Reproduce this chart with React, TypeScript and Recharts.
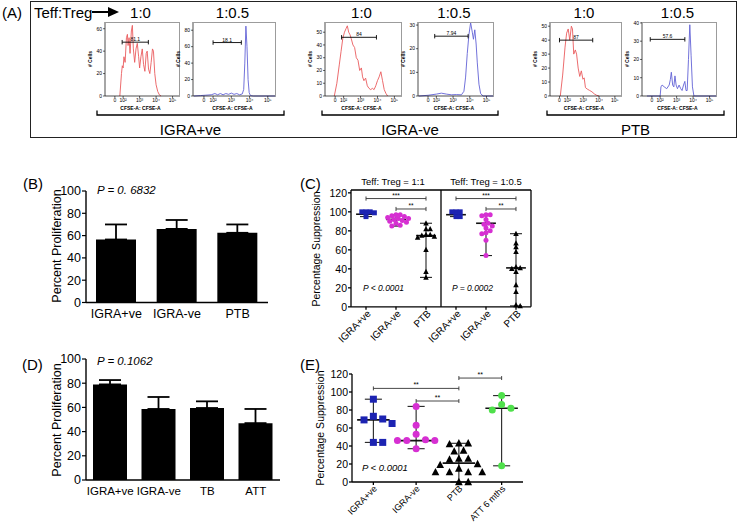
import React from "react";
import {
  BarChart,
  Bar,
  ErrorBar,
  LineChart,
  Line,
  ScatterChart,
  Scatter,
  XAxis,
  YAxis,
  ReferenceLine,
} from "recharts";

const FONT = "'Liberation Sans', Arial, Helvetica, sans-serif";
const RED = "#ea5b5d";
const BLUE = "#6262d6";

// ---------- Panel A: CFSE histograms (x in log decades, "0" drawn at 1.5)
const cfseTicks = [1.5, 2, 3, 4, 5];
const cfseTickLabels = ["0", "10²", "10³", "10⁴", "10⁵"];

const igraPosTeff = [
  [1.8, 0], [1.9, 20], [1.95, 27], [2.0, 25], [2.05, 35], [2.12, 30], [2.2, 52], [2.26, 55],
  [2.3, 45], [2.36, 52], [2.42, 38], [2.5, 58], [2.56, 63], [2.62, 42], [2.7, 30], [2.78, 42],
  [2.86, 47], [2.94, 35], [3.0, 25], [3.08, 35], [3.16, 42], [3.24, 28], [3.32, 22], [3.4, 38],
  [3.46, 40], [3.54, 24], [3.62, 20], [3.7, 30], [3.78, 42], [3.84, 40], [3.92, 20], [4.0, 10],
  [4.1, 4], [4.2, 1], [4.3, 0],
];
const igraPosTreg = [
  [0.95, 0], [1.3, 0.5], [1.6, 1], [1.9, 1.5], [2.1, 3], [2.25, 1.5], [2.4, 3], [2.55, 1.5],
  [2.7, 3], [2.85, 2], [3.0, 3.5], [3.15, 2], [3.3, 3], [3.45, 1.5], [3.6, 2.5], [3.68, 8],
  [3.74, 40], [3.8, 85], [3.86, 60], [3.92, 20], [3.98, 4], [4.05, 0.5], [4.2, 0], [5.4, 0],
];
const igraNegTeff = [
  [1.45, 0], [1.6, 10], [1.75, 25], [1.85, 35], [1.95, 45], [2.05, 50], [2.15, 53], [2.22, 55],
  [2.3, 50], [2.38, 48], [2.45, 45], [2.55, 40], [2.65, 38], [2.75, 30], [2.85, 28], [2.95, 20],
  [3.05, 22], [3.12, 15], [3.2, 12], [3.3, 14], [3.4, 8], [3.5, 6], [3.6, 5], [3.7, 6],
  [3.8, 5], [3.9, 8], [4.0, 12], [4.1, 15], [4.2, 19], [4.3, 12], [4.4, 5], [4.5, 2], [4.6, 0],
];
const igraNegTreg = [
  [0.95, 0], [1.5, 0.3], [2.0, 0.8], [2.3, 1.2], [2.6, 0.8], [2.9, 0.5], [3.2, 0.6], [3.5, 0.5],
  [3.65, 2], [3.75, 8], [3.85, 18], [3.95, 26], [4.05, 31], [4.15, 27], [4.22, 24], [4.3, 28],
  [4.38, 22], [4.45, 14], [4.55, 5], [4.65, 1], [4.8, 0], [5.4, 0],
];
const ptbTeff = [
  [1.55, 0], [1.7, 15], [1.85, 35], [1.95, 45], [2.05, 48], [2.15, 40], [2.25, 50], [2.32, 48],
  [2.4, 30], [2.5, 33], [2.58, 30], [2.68, 20], [2.78, 14], [2.88, 18], [2.98, 12], [3.06, 13],
  [3.14, 6], [3.25, 5], [3.4, 4], [3.55, 3], [3.7, 1.5], [3.85, 0.5], [4.0, 0],
];
const ptbTreg = [
  [1.2, 0], [2.0, 0], [2.05, 5], [2.12, 6], [2.25, 5], [2.4, 4], [2.55, 6], [2.62, 9],
  [2.68, 13], [2.76, 6], [2.83, 5], [2.9, 11], [2.97, 6], [3.05, 4], [3.15, 6], [3.25, 4],
  [3.33, 3], [3.42, 6], [3.5, 8], [3.57, 3], [3.64, 3], [3.72, 20], [3.8, 39], [3.88, 22],
  [3.96, 5], [4.05, 0], [5.4, 0],
];

// gate: from, to, height, % label
const igraPosTeffGate = [1.94, 3.53, 48, "81.1"];
const igraPosTregGate = [2.0, 3.55, 65, "18.1"];
const igraNegTeffGate = [1.88, 3.94, 46, "84"];
const igraNegTregGate = [1.9, 3.9, 25.3, "7.94"];
const ptbTeffGate = [1.5, 3.6, 40, "87"];
const ptbTregGate = [1.4, 3.5, 31, "57.6"];

const histPanels = [
  { pts: igraPosTeff, gate: igraPosTeffGate, color: RED, title: "1:0", left: 105, right: 180, yMax: 66, ticks: [0, 20, 40, 60] },
  { pts: igraPosTreg, gate: igraPosTregGate, color: BLUE, title: "1:0.5", left: 193, right: 276, yMax: 90, ticks: [0, 20, 40, 60, 80] },
  { pts: igraNegTeff, gate: igraNegTeffGate, color: RED, title: "1:0", left: 325, right: 402, yMax: 58, ticks: [0, 10, 20, 30, 40, 50] },
  { pts: igraNegTreg, gate: igraNegTregGate, color: BLUE, title: "1:0.5", left: 418, right: 494, yMax: 31.3, ticks: [0, 10, 20, 30] },
  { pts: ptbTeff, gate: ptbTeffGate, color: RED, title: "1:0", left: 550, right: 622, yMax: 53, ticks: [0, 10, 20, 30, 40, 50] },
  { pts: ptbTreg, gate: ptbTregGate, color: BLUE, title: "1:0.5", left: 642, right: 717, yMax: 40.5, ticks: [0, 10, 20, 30, 40] },
];
const groupLabels = ["IGRA+ve", "IGRA-ve", "PTB"];
const groupSpans = [[97, 284], [322, 498], [547, 724]];

// ---------- Panels B and D: bars
const bCategories = ["IGRA+ve", "IGRA-ve", "PTB"];
const bMeans = [56.5, 66, 62.5];
const bUpper = [70, 74, 70];
const dCategories = ["IGRA+ve", "IGRA-ve", "TB", "ATT"];
const dMeans = [79, 58.7, 59.5, 47];
const dUpper = [82.6, 68.6, 65, 58.7];

// ---------- Panel C: suppression, two ratios
const cCategories = ["IGRA+ve", "IGRA-ve", "PTB", "IGRA+ve", "IGRA-ve", "PTB"];
const c11IgraPos = [100, 100, 100, 99, 95];
const c11IgraNeg = [97, 97, 96, 95, 94, 93, 93, 92, 91, 90, 89, 88, 86, 85];
const c11Ptb = [88, 82, 82, 76, 76, 75, 74, 73, 60, 37, 31];
const c05IgraPos = [100, 100, 100, 95, 95];
const c05IgraNeg = [97, 97, 96, 92, 88, 87, 85, 83, 80, 78, 77, 70, 54];
const c05Ptb = [77, 67, 63, 58, 42, 41, 40, 37, 23, 16, 2, 1];
const cMedians = [97.5, 92, 75, 97, 88, 41];
const cBrackets = [[0, 2, 114, "***"], [1, 2, 103, "**"], [3, 5, 114, "***"], [4, 5, 103, "**"]];

// ---------- Panel E
const eCategories = ["IGRA+ve", "IGRA-ve", "PTB", "ATT 6 mths"];
const eIgraPos = [92, 73, 70, 69, 65, 44, 44];
const eIgraNeg = [84, 63, 53, 47, 46, 46, 46, 37];
const ePtb = [43, 43, 42, 35, 34, 26, 26, 25, 20, 19, 15, 11, 11, 11, 11, 0, 0];
const eAtt = [96, 86, 82, 80, 18];
const eMedians = [69, 46, 21, 82];
const eBrackets = [[0, 2, 104, "**"], [1, 2, 90, "**"], [2, 3, 115.5, "**"]];

// ---------- helpers
function T({ x, y, size = 12, anchor = "middle", rotate = 0, italic = false, children }: any) {
  const tx = anchor === "middle" ? "-50%" : anchor === "end" ? "-100%" : "0";
  return (
    <div
      style={{
        position: "absolute",
        left: x,
        top: y,
        fontSize: size,
        lineHeight: 1,
        whiteSpace: "nowrap",
        fontStyle: italic ? "italic" : "normal",
        transform: `translate(${tx}, -50%) rotate(${rotate}deg)`,
        color: "#000",
      }}
    >
      {children}
    </div>
  );
}

function swarm(vals: number[], yPx: number, xPx: number, d: number) {
  const placed: { x: number; y: number }[] = [];
  return vals.map((v) => {
    const y = v * yPx;
    let off = 0;
    for (let k = 0; k < 60; k++) {
      const cand = (k % 2 === 1 ? 1 : -1) * Math.ceil(k / 2) * d * 0.55;
      if (placed.every((p) => Math.hypot(p.x - cand, p.y - y) >= d)) {
        off = cand;
        break;
      }
    }
    placed.push({ x: off, y });
    return off / xPx;
  });
}

function marker(kind: string, cx: number, cy: number, s: number) {
  if (kind === "square") return <rect x={cx - s / 2} y={cy - s / 2} width={s} height={s} fill="#1c23b2" />;
  if (kind === "circle") return <circle cx={cx} cy={cy} r={s / 2} fill="#d62fd2" />;
  if (kind === "green") return <circle cx={cx} cy={cy} r={s / 2} fill="#4fe04b" />;
  return (
    <path
      d={`M${cx},${cy - s * 0.6}L${cx + s * 0.55},${cy + s * 0.45}L${cx - s * 0.55},${cy + s * 0.45}Z`}
      fill="#000"
    />
  );
}

function groupEls(
  key: string, vals: number[], median: number, center: number, kind: string,
  o: { yPx: number; xPx: number; size: number; med: number; cap: number; gap: number }
) {
  const offs = swarm(vals, o.yPx, o.xPx, o.gap);
  const data = vals.map((v, i) => ({ x: center + offs[i], y: v }));
  const lo = Math.min(...vals);
  const hi = Math.max(...vals);
  const ln = { stroke: "#222", strokeWidth: 1.1 };
  return [
    <Scatter
      key={key + "s"}
      data={data}
      isAnimationActive={false}
      shape={(p: any) => marker(kind, p.cx, p.cy, o.size)}
    />,
    <ReferenceLine key={key + "r"} segment={[{ x: center, y: lo }, { x: center, y: hi }]} {...ln} />,
    <ReferenceLine key={key + "lo"} segment={[{ x: center - o.cap, y: lo }, { x: center + o.cap, y: lo }]} {...ln} />,
    <ReferenceLine key={key + "hi"} segment={[{ x: center - o.cap, y: hi }, { x: center + o.cap, y: hi }]} {...ln} />,
    <ReferenceLine
      key={key + "m"}
      segment={[{ x: center - o.med, y: median }, { x: center + o.med, y: median }]}
      stroke="#111"
      strokeWidth={1.6}
    />,
  ];
}

function bracketEls(key: string, list: any[], h: number, fs: number) {
  const ln = { stroke: "#333", strokeWidth: 0.9 };
  return list.flatMap(([a, b, y, label]: any, i: number) => [
    <ReferenceLine
      key={key + i + "h"}
      segment={[{ x: a + 0.5, y }, { x: b + 0.5, y }]}
      {...ln}
      label={{ value: label, position: "top", fontSize: fs, fill: "#000", offset: 1, fontFamily: FONT }}
    />,
    <ReferenceLine key={key + i + "a"} segment={[{ x: a + 0.5, y: y - h }, { x: a + 0.5, y: y + h }]} {...ln} />,
    <ReferenceLine key={key + i + "b"} segment={[{ x: b + 0.5, y: y - h }, { x: b + 0.5, y: y + h }]} {...ln} />,
  ]);
}

const rotTick = (labels: string[], fs: number, dx: number, dy: number) => (props: any) => {
  const { x, y, payload } = props;
  const i = Math.round(payload.value - 0.5);
  const ax = x + dx;
  const ay = y + dy;
  return (
    <text
      x={ax}
      y={ay}
      dy={fs * 0.35}
      transform={`rotate(-45 ${ax} ${ay})`}
      textAnchor="end"
      fontSize={fs}
      fontFamily={FONT}
      fill="#000"
    >
      {labels[i]}
    </text>
  );
};

// ---------- histogram
function Histogram({ h }: any) {
  const top = 22;
  const bottom = 96;
  const yw = 14;
  const mt = 2;
  const xh = 14;
  const mr = 1;
  const pw = h.right - h.left;
  const ph = bottom - top;
  const data = h.pts.map(([x, y]: number[]) => ({ x, y }));
  const [g0, g1, gy, gl] = h.gate;
  const capH = h.yMax * 0.03;
  const tickStyle = { fontSize: 5, fill: "#000", fontFamily: FONT };
  return (
    <>
      <div style={{ position: "absolute", left: h.left - yw, top: top - mt }}>
        <LineChart
          width={yw + pw + mr}
          height={mt + ph + xh}
          data={data}
          margin={{ top: mt, right: mr, bottom: 0, left: 0 }}
        >
          <XAxis
            type="number"
            dataKey="x"
            domain={[0.9, 5.45]}
            ticks={cfseTicks}
            tickFormatter={(v: number) => cfseTickLabels[cfseTicks.indexOf(v)] ?? ""}
            tick={tickStyle}
            tickSize={2}
            tickMargin={0}
            height={xh}
            interval={0}
            axisLine={{ stroke: "#000", strokeWidth: 0.7 }}
            tickLine={{ stroke: "#000", strokeWidth: 0.6 }}
          />
          <YAxis
            type="number"
            domain={[0, h.yMax]}
            ticks={h.ticks}
            width={yw}
            tick={tickStyle}
            tickSize={2}
            tickMargin={1}
            interval={0}
            axisLine={{ stroke: "#000", strokeWidth: 0.7 }}
            tickLine={{ stroke: "#000", strokeWidth: 0.6 }}
          />
          <Line type="linear" dataKey="y" stroke={h.color} strokeWidth={0.9} dot={false} isAnimationActive={false} />
          <ReferenceLine
            segment={[{ x: g0, y: gy }, { x: g1, y: gy }]}
            stroke="#000"
            strokeWidth={0.9}
            label={{ value: gl, position: "top", fontSize: 5, fill: "#000", offset: 1, fontFamily: FONT }}
          />
          <ReferenceLine segment={[{ x: g0, y: gy - capH }, { x: g0, y: gy + capH }]} stroke="#000" strokeWidth={0.9} />
          <ReferenceLine segment={[{ x: g1, y: gy - capH }, { x: g1, y: gy + capH }]} stroke="#000" strokeWidth={0.9} />
        </LineChart>
        <div
          style={{
            position: "absolute",
            left: yw,
            top: mt,
            width: pw,
            height: ph,
            border: "0.8px solid #9c9c9c",
            borderLeft: "none",
            borderBottom: "none",
            boxSizing: "border-box",
            pointerEvents: "none",
          }}
        />
      </div>
      <T x={(h.left + h.right) / 2 - 2} y={12} size={15}>{h.title}</T>
      <T x={h.left - 15} y={59} size={5} rotate={-90}>
        <b># Cells</b>
      </T>
      <T x={(h.left + h.right) / 2 - 2} y={107.5} size={5}>
        <b>CFSE-A: CFSE-A</b>
      </T>
    </>
  );
}

// ---------- bar panel
function BarPanel({ cats, means, uppers, x0, x1, yTop, yBottom, barSize, fs }: any) {
  const yw = 34;
  const mt = 8;
  const xh = 24;
  const mr = 4;
  const data = cats.map((c: string, i: number) => ({ name: c, v: means[i], err: [0, uppers[i] - means[i]] }));
  return (
    <div style={{ position: "absolute", left: x0 - yw, top: yTop - mt }}>
      <BarChart
        width={yw + x1 - x0 + mr}
        height={mt + yBottom - yTop + xh}
        data={data}
        margin={{ top: mt, right: mr, bottom: 0, left: 0 }}
      >
        <XAxis
          dataKey="name"
          tickLine={false}
          axisLine={{ stroke: "#000", strokeWidth: 1.4 }}
          tick={{ fontSize: fs, fill: "#000", fontFamily: FONT }}
          height={xh}
          interval={0}
          tickMargin={1}
        />
        <YAxis
          type="number"
          domain={[0, 100]}
          ticks={[0, 20, 40, 60, 80, 100]}
          width={yw}
          tick={{ fontSize: 12.5, fill: "#000", fontFamily: FONT }}
          tickSize={4}
          tickMargin={1}
          interval={0}
          axisLine={{ stroke: "#000", strokeWidth: 1.4 }}
          tickLine={{ stroke: "#000", strokeWidth: 1.2 }}
        />
        <Bar dataKey="v" fill="#000" barSize={barSize} isAnimationActive={false}>
          <ErrorBar dataKey="err" width={11} stroke="#000" strokeWidth={1.8} direction="y" />
        </Bar>
      </BarChart>
    </div>
  );
}

export default function App() {
  // panel C geometry
  const cO = { yPx: 0.95, xPx: 30, size: 5, med: 0.33, cap: 0.2, gap: 3.8 };
  const cX0 = 351;
  const cX1 = 531;
  const cY0 = 307;
  const cTop = 123;
  const cYw = 30;
  const cMt = 4;
  const cXh = 46;
  const cPh = cTop * cO.yPx;
  const cGroups = [
    [c11IgraPos, "square"], [c11IgraNeg, "circle"], [c11Ptb, "tri"],
    [c05IgraPos, "square"], [c05IgraNeg, "circle"], [c05Ptb, "tri"],
  ] as const;

  // panel E geometry
  const eO = { yPx: 0.9, xPx: 42.75, size: 7, med: 0.38, cap: 0.2, gap: 8.5 };
  const eX0 = 352;
  const eX1 = 523;
  const eY0 = 482;
  const eYw = 30;
  const eMt = 8;
  const eXh = 40;
  const ePh = 120 * eO.yPx;
  const eGroups = [[eIgraPos, "square"], [eIgraNeg, "circle"], [ePtb, "tri"], [eAtt, "green"]] as const;

  const axisLn = { stroke: "#000", strokeWidth: 1.3 };
  const smallTick = { fontSize: 10.5, fill: "#000", fontFamily: FONT };

  return (
    <div
      style={{
        position: "absolute",
        left: 0,
        top: 0,
        width: 740,
        height: 522,
        background: "#fff",
        fontFamily: FONT,
        overflow: "hidden",
      }}
    >
      {/* Panel A */}
      <div
        style={{
          position: "absolute",
          left: 30,
          top: 1,
          width: 707,
          height: 137,
          border: "1.5px solid #222",
          boxSizing: "border-box",
        }}
      />
      <T x={2} y={12} size={15} anchor="start">(A)</T>
      <T x={34} y={12} size={15} anchor="start">Teff:Treg</T>
      <svg style={{ position: "absolute", left: 90, top: 6 }} width={32} height={12}>
        <line x1={2} y1={6} x2={20} y2={6} stroke="#000" strokeWidth={2} />
        <path d="M18,1 L29,6 L18,11 Z" fill="#000" />
      </svg>
      {histPanels.map((h, i) => (
        <Histogram key={i} h={h} />
      ))}
      <svg style={{ position: "absolute", left: 0, top: 0 }} width={740} height={140}>
        {groupSpans.map(([a, b], i) => (
          <path key={i} d={`M${a},110.5 L${a},115 L${b},115 L${b},110.5`} stroke="#000" strokeWidth={1.3} fill="none" />
        ))}
      </svg>
      {groupSpans.map(([a, b], i) => (
        <T key={i} x={(a + b) / 2} y={129} size={15}>
          {groupLabels[i]}
        </T>
      ))}

      {/* Panel B */}
      <T x={23} y={183} size={15} anchor="start">(B)</T>
      <T x={57} y={246} size={12.5} rotate={-90}>Percent Proliferation</T>
      <T x={97} y={191} size={11.5} anchor="start" italic>P = 0. 6832</T>
      <BarPanel cats={bCategories} means={bMeans} uppers={bUpper} x0={86} x1={268} yTop={190.5} yBottom={302} barSize={40} fs={12.5} />

      {/* Panel C */}
      <T x={300} y={183} size={15} anchor="start">(C)</T>
      <T x={393} y={182} size={9.5}>Teff: Treg = 1:1</T>
      <T x={486} y={182} size={9.5}>Teff: Treg = 1:0.5</T>
      <T x={316} y={249} size={10.5} rotate={-90}>Percentage Suppression</T>
      <div style={{ position: "absolute", left: cX0 - cYw, top: cY0 - cPh - cMt }}>
        <ScatterChart
          width={cYw + cX1 - cX0 + 2}
          height={cMt + cPh + cXh}
          margin={{ top: cMt, right: 2, bottom: 0, left: 0 }}
        >
          <XAxis
            type="number"
            dataKey="x"
            domain={[0, 6]}
            ticks={[0.5, 1.5, 2.5, 3.5, 4.5, 5.5]}
            interval={0}
            tick={rotTick(cCategories, 10, 3, 0)}
            tickSize={3}
            height={cXh}
            axisLine={axisLn}
            tickLine={axisLn}
          />
          <YAxis
            type="number"
            dataKey="y"
            domain={[0, cTop]}
            ticks={[0, 20, 40, 60, 80, 100, 120]}
            interval={0}
            width={cYw}
            tick={smallTick}
            tickSize={3}
            tickMargin={1}
            axisLine={axisLn}
            tickLine={axisLn}
          />
          <ReferenceLine y={cTop} {...axisLn} />
          <ReferenceLine x={6} {...axisLn} />
          <ReferenceLine x={3} {...axisLn} />
          {cGroups.flatMap(([vals, kind], i) => groupEls("c" + i, vals as any, cMedians[i], i + 0.5, kind, cO))}
          {bracketEls("cb", cBrackets, 2.2, 6.5)}
        </ScatterChart>
      </div>
      <T x={363} y={288} size={8.5} anchor="start" italic>P &lt; 0.0001</T>
      <T x={452} y={288} size={8.5} anchor="start" italic>P  = 0.0002</T>

      {/* Panel D */}
      <T x={22} y={364} size={15} anchor="start">(D)</T>
      <T x={57} y={420} size={12.5} rotate={-90}>Percent Proliferation</T>
      <T x={97} y={362} size={11.5} anchor="start" italic>P = 0.1062</T>
      <BarPanel cats={dCategories} means={dMeans} uppers={dUpper} x0={86} x1={280} yTop={359} yBottom={480} barSize={34} fs={11.5} />

      {/* Panel E */}
      <T x={300} y={364} size={15} anchor="start">(E)</T>
      <T x={320} y={428} size={10.5} rotate={-90}>Percentage Suppression</T>
      <div style={{ position: "absolute", left: eX0 - eYw, top: eY0 - ePh - eMt }}>
        <ScatterChart
          width={eYw + eX1 - eX0 + 2}
          height={eMt + ePh + eXh}
          margin={{ top: eMt, right: 2, bottom: 0, left: 0 }}
        >
          <XAxis
            type="number"
            dataKey="x"
            domain={[0, 4]}
            ticks={[0.5, 1.5, 2.5, 3.5]}
            interval={0}
            tick={rotTick(eCategories, 9, 2, 0)}
            tickSize={3}
            height={eXh}
            axisLine={axisLn}
            tickLine={axisLn}
          />
          <YAxis
            type="number"
            dataKey="y"
            domain={[0, 120]}
            ticks={[0, 20, 40, 60, 80, 100, 120]}
            interval={0}
            width={eYw}
            tick={smallTick}
            tickSize={3}
            tickMargin={1}
            axisLine={axisLn}
            tickLine={axisLn}
          />
          {eGroups.flatMap(([vals, kind], i) => groupEls("e" + i, vals as any, eMedians[i], i + 0.5, kind, eO))}
          {bracketEls("eb", eBrackets, 2.2, 7)}
        </ScatterChart>
      </div>
      <T x={362} y={468} size={9.5} anchor="start" italic>P &lt; 0.0001</T>
    </div>
  );
}
